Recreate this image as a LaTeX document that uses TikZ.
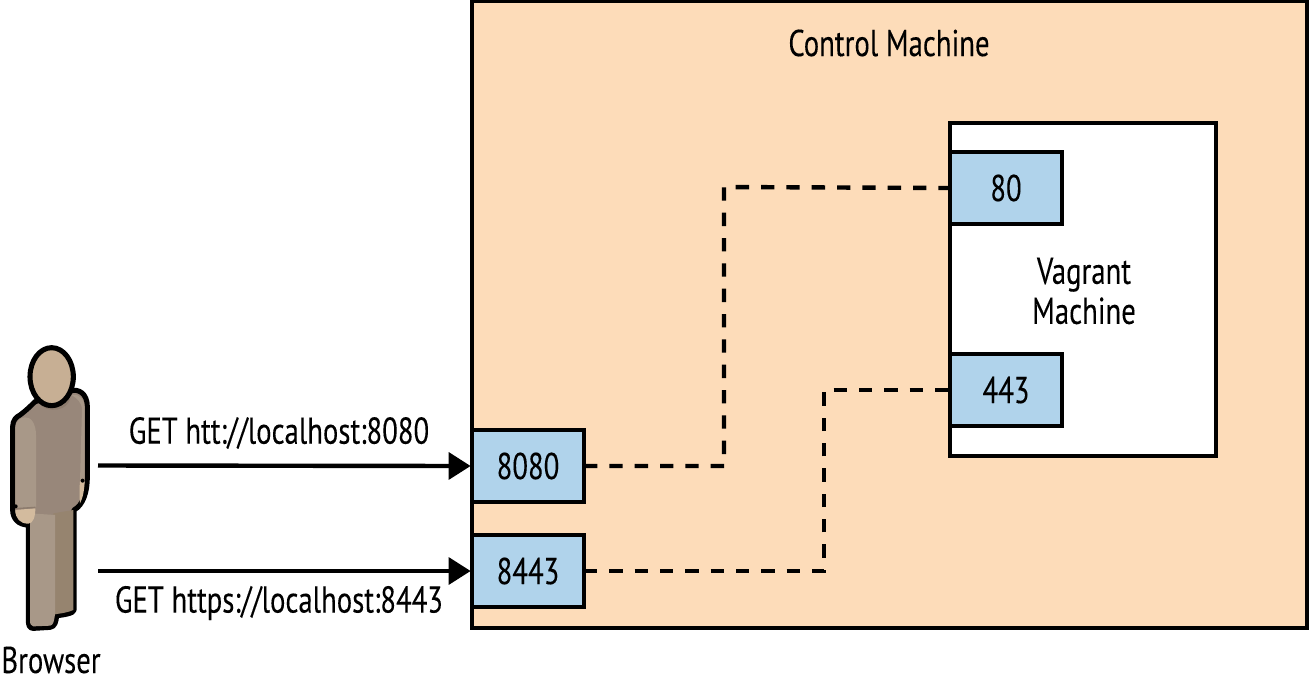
\documentclass[tikz,border=0pt]{standalone}
\usepackage{fontspec}
\setmainfont{PT Sans}[FakeStretch=0.77,FakeBold=0.12]
\usetikzlibrary{arrows.meta}
\definecolor{peach}{HTML}{FDDCB9}
\definecolor{portblue}{HTML}{B0D3EB}
\definecolor{torso}{HTML}{98877A}
\definecolor{sleeve}{HTML}{A89888}
\definecolor{collar}{HTML}{8C7B6D}
\definecolor{legdark}{HTML}{96846F}
\definecolor{skin}{HTML}{C7AF94}
\definecolor{hand}{HTML}{D3BB9E}
\tikzset{
  every node/.style={font=\fontsize{28pt}{30pt}\selectfont, text=black},
  machine/.style={draw=black, line width=3.3pt, outer sep=0pt, inner sep=0pt},
  portbox/.style={draw=black, fill=portblue, line width=3.3pt, outer sep=0pt, inner sep=0pt, minimum width=84pt, minimum height=54pt},
  flow/.style={line width=3.3pt, -{Triangle[length=16.5pt,width=20pt]}, shorten >=1pt},
  tunnel/.style={line width=3.3pt, dash pattern=on 10pt off 9pt},
  figline/.style={draw=black, line width=3.8pt, line join=round},
}
\begin{document}
\begin{tikzpicture}[x=0.75pt,y=-0.75pt]
\useasboundingbox (0,0) rectangle (1309,683);
% Control machine
\node[machine, fill=peach, minimum width=626.25pt, minimum height=470.25pt, anchor=north west] (control) at (472,1) {};
\node (controllabel) at (889,43) {Control Machine};
% Vagrant machine
\node[machine, fill=white, minimum width=199.5pt, minimum height=249.75pt, anchor=north west] (vagrant) at (950,123) {};
\node[align=center] (vagrantlabel) at (1084,291) {Vagrant\\Machine};
% Ports
\node[portbox, anchor=north west] (p80) at (950,152) {80};
\node[portbox, anchor=north west] (p443) at (950,354) {443};
\node[portbox, anchor=north west] (p8080) at (472,430) {8080};
\node[portbox, anchor=north west] (p8443) at (472,535) {8443};
% Tunnels
\draw[tunnel] (p8080.east) -| (724,187) -- (p80.west);
\draw[tunnel] (p8443.east) -| (824,390) -- (p443.west);
% Requests
\coordinate (reqa) at (98,465.5);
\coordinate (reqb) at (98,571);
\draw[flow] (reqa) -- (p8080.west);
\draw[flow] (reqb) -- (p8443.west);
\node (geta) at (279,433) {GET htt://localhost:8080};
\node (getb) at (279,603) {GET https://localhost:8443};
% Person
\begin{scope}[shift={(0,335)}, x=0.25pt, y=-0.25pt]
  \path[figline, fill=torso]
    (212,168) .. controls (235,160) and (262,175) .. (262,215) -- (262,425)
    .. controls (262,470) and (250,510) .. (222,525) -- (222,825)
    .. controls (222,835) and (190,840) .. (170,842) .. controls (168,860) and (165,875) .. (150,877)
    -- (100,880) .. controls (88,880) and (85,870) .. (85,855) -- (85,570)
    .. controls (55,570) and (38,550) .. (38,525) -- (38,275)
    .. controls (38,255) and (50,245) .. (60,240) .. controls (80,225) and (95,210) .. (105,200) -- cycle;
  % legs
  \fill[legdark] (160,535) -- (220,525) -- (220,825) .. controls (205,832) and (185,835) .. (163,838) -- cycle;
  \fill[sleeve] (90,535) -- (165,540) -- (165,838) .. controls (162,860) and (160,870) .. (150,872) -- (100,874) .. controls (92,874) and (90,865) .. (90,855) -- cycle;
  % hands
  \fill[hand] (46,525) -- (106,520) .. controls (106,545) and (100,565) .. (85,566) .. controls (60,566) and (46,550) .. (46,525) -- cycle;
  \fill[hand] (240,440) -- (254,430) .. controls (254,465) and (248,490) .. (240,505) .. controls (238,480) and (238,460) .. (240,440) -- cycle;
  % left sleeve
  \fill[sleeve] (46,278) .. controls (46,260) and (60,248) .. (75,247) .. controls (95,245) and (108,270) .. (108,300) -- (108,517) -- (46,519) -- cycle;
  \draw[collar, line width=1pt] (46,521) -- (106,517);
  % right sleeve shading
  \fill[sleeve] (215,180) .. controls (240,175) and (254,195) .. (254,220) -- (254,430) -- (240,440) -- (246,220) .. controls (245,205) and (232,190) .. (215,180) -- cycle;
  % collar shadow
  \fill[collar] (110,195) .. controls (120,225) and (190,245) .. (212,190) .. controls (200,205) and (125,220) .. (110,195) -- cycle;
  % cuffs
  \fill[black] (47,514) circle (6);
  \fill[black] (248,437) circle (6);
  % head
  \path[figline, fill=skin] (155,125) ellipse (65 and 87);
\end{scope}
\node (browser) at (51,660) {Browser};
\end{tikzpicture}
\end{document}
